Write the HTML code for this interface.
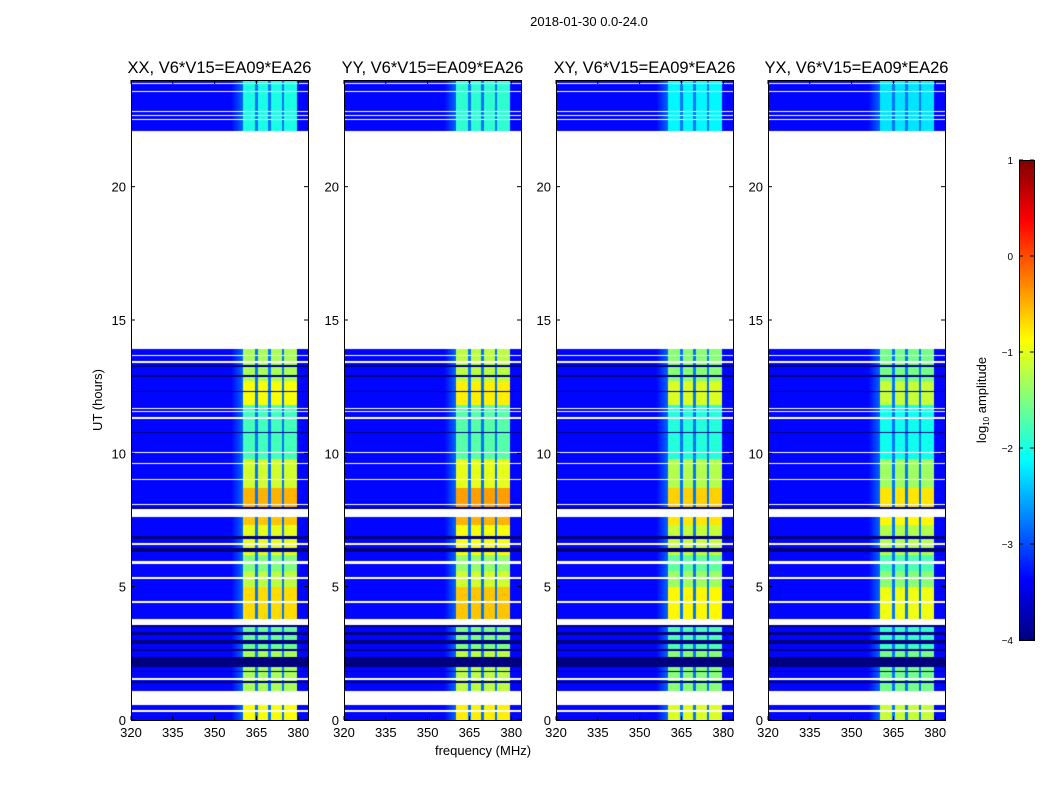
<!DOCTYPE html>
<html><head><meta charset="utf-8">
<style>
body{margin:0;background:#fff;font-family:"Liberation Sans",sans-serif;}
#root{position:relative;width:1050px;height:800px;overflow:hidden;background:#fff;}
.t{position:absolute;font-size:13px;color:#000;white-space:nowrap;}
canvas{position:absolute;}
</style></head>
<body>
<div id="root">
<div class="t" style="left:489px;top:14px;width:200px;text-align:center;">2018-01-30 0.0-24.0</div>
<svg id="svg" width="1050" height="800" style="position:absolute;left:0;top:0"></svg>
</div>
<script>
const panelTitles=["XX, V6*V15=EA09*EA26","YY, V6*V15=EA09*EA26","XY, V6*V15=EA09*EA26","YX, V6*V15=EA09*EA26"];
const panelOffsets=[0,0.1,-0.15,-0.25];
const xTicks=[320,335,350,365,380];
const yTicks=[0,5,10,15,20];
const cbTicks=[1,0,-1,-2,-3,-4];
const bandEdges=[[360.3,364.5],[365.5,369.2],[370.2,374],[375,379.4]];
const bandSegments=[[0,0.55,-0.9],[1.1,2.6,-1.3],[2.6,3.55,-1.6],[3.8,5.0,-0.7],[5.0,5.6,-1.2],[5.6,6.2,-1.5],[6.2,7.3,-1.0],[7.3,7.6,-0.6],[7.9,8.7,-0.5],[8.7,9.8,-1.1],[9.8,11.8,-1.8],[11.8,12.7,-0.9],[12.7,13.9,-1.3],[22.1,24,-2.0]];
const whiteRows=[[0.3,0.36],[0.55,1.1],[1.5,1.58],[3.55,3.8],[4.4,4.48],[5.3,5.38],[5.85,5.95],[6.55,6.65],[7.6,7.9],[8.05,8.1],[9.0,9.05],[9.6,9.65],[10.0,10.05],[11.3,11.35],[11.55,11.6],[11.65,11.7],[13.4,13.45],[13.65,13.7],[13.9,22.1],[22.5,22.55],[22.65,22.7],[22.8,22.85],[23.55,23.6],[23.85,23.9]];
const blackRows=[[1.4,1.45],[1.8,1.85],[2.0,2.35],[2.6,2.65],[2.85,3.0],[3.2,3.3],[3.5,3.55],[6.3,6.45],[6.8,6.9],[7.9,8.0],[10.75,10.8],[12.3,12.35],[12.85,12.95],[13.25,13.3]];
const backgroundLevel=-3.35;

const root=document.getElementById('root');
const svg=document.getElementById('svg');
const NS='http://www.w3.org/2000/svg';
const panelX=[131,344,556,768], PW=177, PT=80, PB=720;
const fMin=320,fMax=383.5,tMin=0,tMax=24;
function xs(px,f){return px+(f-fMin)/(fMax-fMin)*PW;}
function ys(t){return PB-(t-tMin)/(tMax-tMin)*(PB-PT);}
function jet(v){let t=Math.max(0,Math.min(1,(v+4)/5));
 const r=Math.max(0,Math.min(1,1.5-Math.abs(4*t-3))),g=Math.max(0,Math.min(1,1.5-Math.abs(4*t-2))),b=Math.max(0,Math.min(1,1.5-Math.abs(4*t-1)));
 return [r*255|0,g*255|0,b*255|0];}
function inR(list,t){for(const r of list)if(t>=r[0]&&t<r[1])return true;return false;}
function value(f,t,off){
 if(inR(whiteRows,t))return null;
 if(inR(blackRows,t))return -4;
 let lvl=null;for(const s of bandSegments)if(t>=s[0]&&t<s[1])lvl=s[2];
 if(lvl===null)return null;
 let inBand=false;for(const b of bandEdges)if(f>=b[0]&&f<b[1])inBand=true;
 if(inBand)return lvl+off;
 if(f>=360.3&&f<379.4)return -2.8;
 if(f>=356&&f<360.3)return backgroundLevel+(f-356)/4.3*0.5;
 return backgroundLevel;
}
function el(tag,attrs,parent){const e=document.createElementNS(NS,tag);for(const k in attrs)e.setAttribute(k,attrs[k]);(parent||svg).appendChild(e);return e;}
function txt(x,y,s,anchor,size,parent){const e=el('text',{x:x,y:y,'text-anchor':anchor,'font-size':size,'font-family':'Liberation Sans, sans-serif'},parent);e.textContent=s;return e;}

panelX.forEach((px,i)=>{
 const c=document.createElement('canvas');c.width=PW;c.height=PB-PT;
 c.style.left=px+'px';c.style.top=PT+'px';
 
 
 root.insertBefore(c,svg);
 const ctx=c.getContext('2d');const img=ctx.createImageData(PW,PB-PT);
 for(let y=0;y<PB-PT;y++){const t=tMax-(y+0.5)/(PB-PT)*(tMax-tMin);
  for(let x=0;x<PW;x++){const f=fMin+(x+0.5)/PW*(fMax-fMin);
   const v=value(f,t,panelOffsets[i]);const k=(y*PW+x)*4;
   if(v===null){img.data[k]=img.data[k+1]=img.data[k+2]=255;}
   else{const c3=jet(v);img.data[k]=c3[0];img.data[k+1]=c3[1];img.data[k+2]=c3[2];}
   img.data[k+3]=255;}}
 ctx.putImageData(img,0,0);
 const g=el('g',{});
 
 
 el('rect',{x:px+0.5,y:PT+0.5,width:PW,height:PB-PT,fill:'none',stroke:'#000'},g);
 const tt=txt(px+PW/2,73,panelTitles[i],'middle',16.5,g);
 
 
 xTicks.forEach(v=>{const x=xs(px,v);
  el('line',{x1:x,x2:x,y1:PB,y2:PB-4,stroke:'#000'},g);el('line',{x1:x,x2:x,y1:PT,y2:PT+4,stroke:'#000'},g);
  const l=txt(x,737,String(v),'middle',13,g);
  
  });
 yTicks.forEach(v=>{const y=ys(v);
  el('line',{x1:px,x2:px+4,y1:y,y2:y,stroke:'#000'},g);el('line',{x1:px+PW,x2:px+PW-4,y1:y,y2:y,stroke:'#000'},g);
  const l=txt(px-5,y+5,String(v),'end',13,g);
  
  });
});
const xl=txt(483,755,'frequency (MHz)','middle',13);


const yl=txt(0,0,'UT (hours)','middle',13);yl.setAttribute('transform','translate(102,400) rotate(-90)');


const cb=document.createElement('canvas');cb.width=15;cb.height=480;cb.style.left='1019px';cb.style.top='160px';


root.insertBefore(cb,svg);
const cx=cb.getContext('2d');
for(let y=0;y<480;y++){const c3=jet(1-(y+0.5)/480*5);cx.fillStyle='rgb('+c3+')';cx.fillRect(0,y,15,1);}
el('rect',{x:1019.5,y:160.5,width:15,height:480,fill:'none',stroke:'#000'});
cbTicks.forEach(v=>{const y=160+(1-v)/5*480;
 el('line',{x1:1019,x2:1023,y1:y,y2:y,stroke:'#000'});el('line',{x1:1034,x2:1030,y1:y,y2:y,stroke:'#000'});
 const l=txt(1013,y+4,v<0?'\u2212'+(-v):String(v),'end',10);
 
 });
const cl=el('text',{'text-anchor':'middle','font-size':13,'font-family':'Liberation Sans, sans-serif',transform:'translate(986,400) rotate(-90)'});
cl.innerHTML='log<tspan font-size="8" dy="3">10</tspan><tspan dy="-3"> amplitude</tspan>';


</script>
</body></html>
